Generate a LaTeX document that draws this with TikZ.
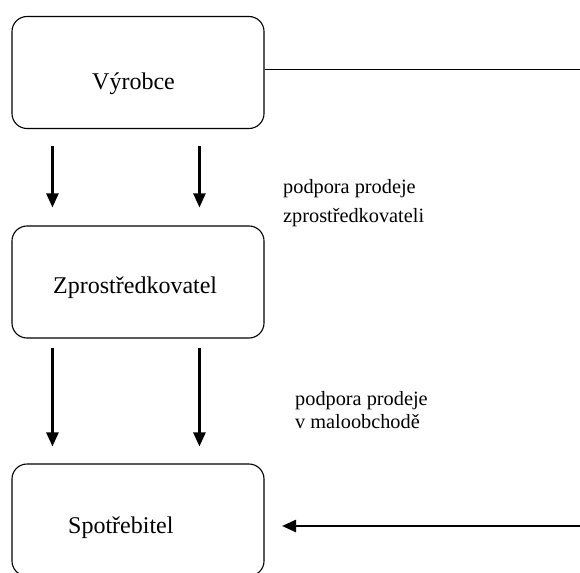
\documentclass[tikz,border=0pt]{standalone}
\usepackage{fontspec}
\setmainfont{Liberation Serif}
\newfontfamily\tmsfont{Liberation Serif}
\usetikzlibrary{arrows.meta,calc}
\begin{document}
\begin{tikzpicture}[x=1pt,y=-1pt,
  box/.style={draw, line width=1.1pt, rounded corners=15pt, minimum width=252pt, minimum height=112pt, inner sep=0pt},
  boxtext/.style={font=\tmsfont\fontsize{24}{28}\selectfont, anchor=base west, inner sep=0pt},
  lbl/.style={font=\tmsfont\fontsize{20.3}{24}\selectfont, anchor=base west, inner sep=0pt},
  arr/.style={line width=2.4pt, -{Triangle[width=12pt,length=14pt]}},
  plain/.style={line width=1.2pt}]
\useasboundingbox (0,0) rectangle (580,572);
\clip (0,0) rectangle (580,572);

% boxes
\node[box] (v) at (138,72.5) {};
\node[box] (z) at (138,282) {};
\node[box] (s) at (138,520) {};

% box texts
\node[boxtext] (vt) at (92,90) {Výrobce};
\node[boxtext] (zt) at (53,293) {Zprostředkovatel};
\node[boxtext] (st) at (68,533) {Spotřebitel};

% labels
\node[lbl] (l1a) at (283,193) {podpora prodeje};
\node[lbl] (l1b) at (283,222) {zprostředkovateli};
\node[lbl] (l2a) at (295,405) {podpora prodeje};
\node[lbl] (l2b) at (295,428) {v maloobchodě};

% coordinates
\coordinate (topEnd) at (580,69.5);
\coordinate (rightStart) at (580,526);
\coordinate (rightTip) at (282,526);

% top line
\draw[plain] (v.east |- topEnd) -- (topEnd);

% arrows from producer to intermediary
\draw[arr] ($(v.south west)+(41,17)$) -- ($(z.north west)+(41,-18)$);
\draw[arr] ($(v.south west)+(188,17)$) -- ($(z.north west)+(188,-18)$);

% arrows from intermediary to consumer
\draw[arr] ($(z.south west)+(41,9)$) -- ($(s.north west)+(41,-17)$);
\draw[arr] ($(z.south west)+(188,9)$) -- ($(s.north west)+(188,-17)$);

% right arrow into consumer
\draw[arr] (rightStart) -- (rightTip);
\end{tikzpicture}
\end{document}
